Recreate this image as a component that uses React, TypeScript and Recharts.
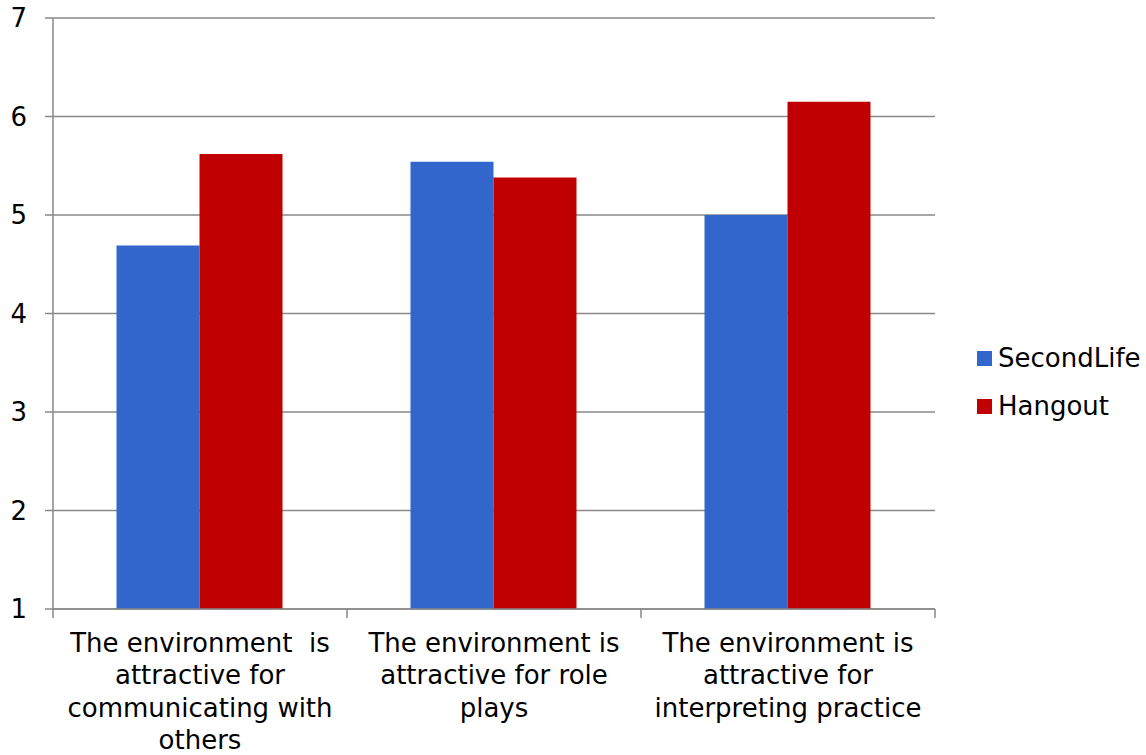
import { Bar, BarChart, CartesianGrid, XAxis, YAxis } from "recharts"

const categories = [
  "The environment  is\nattractive for\ncommunicating with\nothers",
  "The environment is\nattractive for role\nplays",
  "The environment is\nattractive for\ninterpreting practice",
]
const secondLife = [4.69, 5.54, 5.0]
const hangout = [5.62, 5.38, 6.15]
const yTicks = [1, 2, 3, 4, 5, 6, 7]

const series = [
  { key: "SecondLife", color: "#3366CC" },
  { key: "Hangout", color: "#C00000" },
]

const data = categories.map((name, i) => ({
  name,
  SecondLife: secondLife[i],
  Hangout: hangout[i],
}))

const font = "'DejaVu Sans', Verdana, sans-serif"
const grey = "#888888"

// category label split on \n, plus tick marks at the band edges
function CategoryTick(props: any) {
  const { x, y, payload, index, visibleTicksCount } = props
  const lines = String(payload.value).split("\n")
  const half = payload.offset ?? 0
  const isLast = index === visibleTicksCount - 1
  return (
    <g>
      {half > 0 && <line x1={x - half} x2={x - half} y1={y} y2={y + 9} stroke={grey} strokeWidth={1.5} />}
      {half > 0 && isLast && <line x1={x + half} x2={x + half} y1={y} y2={y + 9} stroke={grey} strokeWidth={1.5} />}
      <text x={x} y={y} textAnchor="middle" fontSize={26} fill="#000" fontFamily={font}>
        {lines.map((line: string, i: number) => (
          <tspan key={i} x={x} dy={i === 0 ? 43 : 32.3} style={{ whiteSpace: "pre" }}>
            {line}
          </tspan>
        ))}
      </text>
    </g>
  )
}

export default function App() {
  return (
    <div style={{ position: "absolute", left: 0, top: 0, width: 1146, height: 755, background: "#fff" }}>
      <BarChart
        width={1146}
        height={755}
        data={data}
        margin={{ top: 18, right: 211, bottom: 0, left: 0 }}
        barCategoryGap="21.6%"
        barGap={0}
      >
        <CartesianGrid vertical={false} stroke={grey} strokeWidth={1.5} />
        <XAxis
          dataKey="name"
          height={146}
          interval={0}
          tick={<CategoryTick />}
          tickSize={0}
          tickMargin={0}
          tickLine={false}
          axisLine={{ stroke: grey, strokeWidth: 1.5 }}
        />
        <YAxis
          domain={[1, 7]}
          ticks={yTicks}
          width={53}
          tickSize={8}
          tickMargin={18}
          axisLine={{ stroke: grey, strokeWidth: 1.5 }}
          tickLine={{ stroke: grey, strokeWidth: 1.5 }}
          tick={{ fontSize: 26, fill: "#000", fontFamily: font }}
        />
        {series.map((s) => (
          <Bar key={s.key} dataKey={s.key} fill={s.color} isAnimationActive={false} />
        ))}
      </BarChart>
      <div
        style={{
          position: "absolute",
          left: 977,
          top: 334,
          fontFamily: font,
          fontSize: 26,
          color: "#000",
        }}
      >
        {series.map((s) => (
          <div key={s.key} style={{ display: "flex", alignItems: "center", height: 48 }}>
            <span style={{ width: 15, height: 15, background: s.color, marginRight: 6, display: "inline-block" }} />
            <span>{s.key}</span>
          </div>
        ))}
      </div>
    </div>
  )
}
